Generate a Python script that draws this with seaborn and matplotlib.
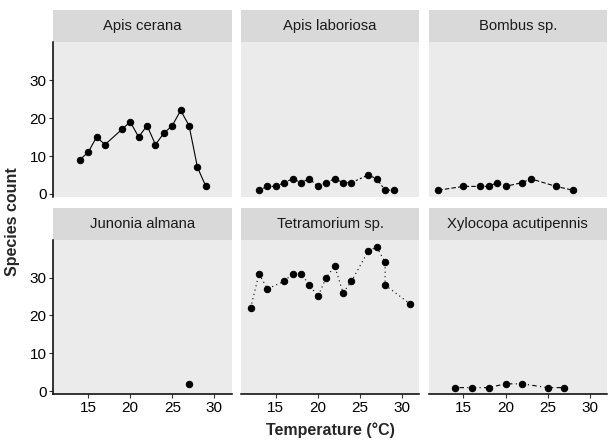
import pandas as pd
import seaborn as sns
import matplotlib.pyplot as plt
from matplotlib.patches import Rectangle

# values, one facet per species
species = ["Apis cerana", "Apis laboriosa", "Bombus sp.",
           "Junonia almana", "Tetramorium sp.", "Xylocopa acutipennis"]

cerana_temp = [14, 15, 16, 17, 19, 20, 21, 22, 23, 24, 25, 26, 27, 28, 29]
cerana_count = [9, 11, 15, 13, 17, 19, 15, 18, 13, 16, 18, 22, 18, 7, 2]

laboriosa_temp = [13, 14, 15, 16, 17, 18, 19, 20, 21, 22, 23, 24, 26, 27, 28, 29]
laboriosa_count = [1, 2, 2, 3, 4, 3, 4, 2, 3, 4, 3, 3, 5, 4, 1, 1]

bombus_temp = [12, 15, 17, 18, 19, 20, 22, 23, 26, 28]
bombus_count = [1, 2, 2, 2, 3, 2, 3, 4, 2, 1]

junonia_temp = [27]
junonia_count = [2]

tetra_temp = [12, 13, 14, 16, 17, 18, 19, 20, 21, 22, 23, 24, 26, 27, 28, 28, 31]
tetra_count = [22, 31, 27, 29, 31, 31, 28, 25, 30, 33, 26, 29, 37, 38, 34, 28, 23]

xylo_temp = [14, 16, 18, 20, 22, 25, 27]
xylo_count = [1, 1, 1, 2, 2, 1, 1]

temps = [cerana_temp, laboriosa_temp, bombus_temp, junonia_temp, tetra_temp, xylo_temp]
counts = [cerana_count, laboriosa_count, bombus_count, junonia_count, tetra_count, xylo_count]

df = pd.concat([pd.DataFrame({"species": sp, "temp": t, "count": c})
                for sp, t, c in zip(species, temps, counts)], ignore_index=True)

# ggplot default linetype sequence: solid, 22, 42, 44, 13, 1343
dash_map = dict(zip(species, ["", (2, 2), (4, 2), (4, 4), (1, 3), (1, 3, 4, 3)]))
marker_map = {sp: "o" for sp in species}

sns.set_style("white")
plt.rcParams["font.family"] = ["Liberation Sans", "DejaVu Sans"]

g = sns.FacetGrid(df, col="species", col_order=species, col_wrap=3,
                  sharex=True, sharey=True, despine=False)
g.map_dataframe(sns.lineplot, x="temp", y="count", style="species",
                dashes=dash_map, markers=marker_map, sort=False,
                estimator=None, color="black", linewidth=0.8,
                markersize=4.6, markeredgecolor="black", legend=False)

fig = g.figure
fig.set_size_inches(6.08, 4.43)
fig.subplots_adjust(left=0.0877, right=0.998, top=0.905, bottom=0.11,
                    wspace=0.053, hspace=0.276)

strip_h = 0.207
for i, (ax, sp) in enumerate(zip(g.axes.flat, species)):
    ax.set_facecolor("#EBEBEB")
    ax.grid(False)
    ax.set_xlim(10.85, 32.05)
    ax.set_ylim(-0.75, 40.0)
    ax.set_xticks([15, 20, 25, 30])
    ax.set_yticks([0, 10, 20, 30])
    ax.set_title("")
    ax.set_xlabel("")
    ax.set_ylabel("")
    for s in ax.spines.values():
        s.set_visible(False)
    col, row = i % 3, i // 3
    left_col = col == 0
    bottom_row = row == 1
    ax.spines["left"].set_visible(left_col)
    ax.spines["bottom"].set_visible(bottom_row)
    ax.spines["left"].set_color("black")
    ax.spines["bottom"].set_color("black")
    ax.spines["left"].set_linewidth(1.1)
    ax.spines["bottom"].set_linewidth(1.1)
    ax.tick_params(axis="y", left=left_col, labelleft=left_col, length=3,
                   width=0.8, color="#333333", labelsize=11, labelcolor="black", pad=2)
    ax.tick_params(axis="x", bottom=bottom_row, labelbottom=bottom_row, length=3,
                   width=0.8, color="#333333", labelsize=11, labelcolor="black", pad=2)
    ax.add_patch(Rectangle((0, 1), 1, strip_h, transform=ax.transAxes,
                           facecolor="#D9D9D9", edgecolor="none", clip_on=False))
    ax.text(0.5, 1 + strip_h / 2, sp, transform=ax.transAxes, ha="center",
            va="center", fontsize=10.7, color="#1A1A1A")

fig.text(0.02, 0.5, "Species count", rotation=90, ha="center", va="center",
         fontsize=11.5, fontweight="bold")
fig.text(0.543, 0.028, "Temperature (°C)", ha="center", va="center",
         fontsize=11.5, fontweight="bold")

fig.savefig("out.png", dpi=100)
